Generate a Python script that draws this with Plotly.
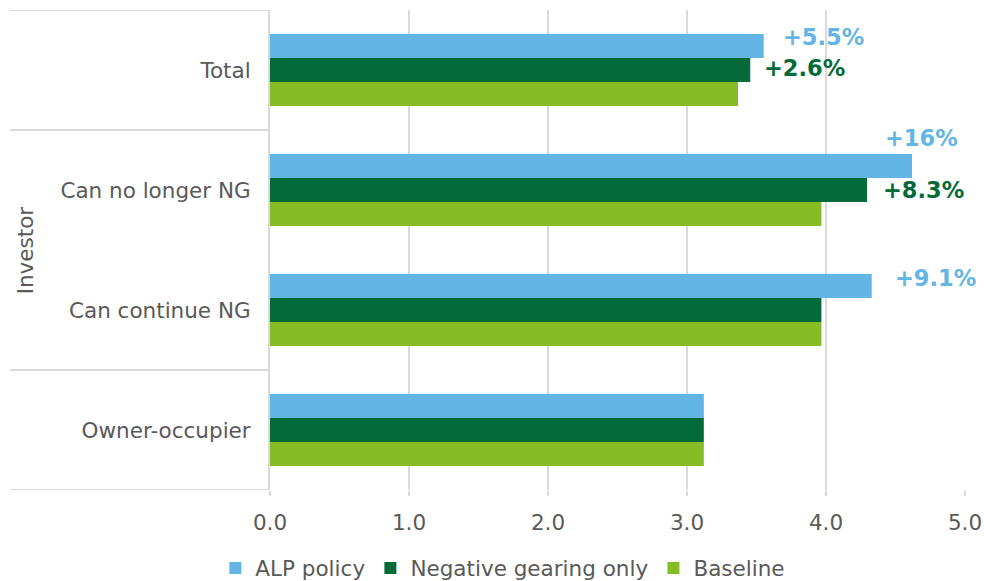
import plotly.graph_objects as go

# Categories, bottom to top
categories = ["Owner-occupier", "Can continue NG", "Can no longer NG", "Total"]

# Series values
alp_policy = [3.121, 4.329, 4.619, 3.552]
negative_gearing_only = [3.121, 3.967, 4.295, 3.455]
baseline = [3.121, 3.967, 3.967, 3.367]

series_names = ["ALP policy", "Negative gearing only", "Baseline"]
series_values = [alp_policy, negative_gearing_only, baseline]
series_colors = ["#62B5E5", "#046A38", "#86BC25"]

# Percentage-change labels: (category, series, text)
change_labels = [
    ("Total", "ALP policy", "+5.5%"),
    ("Total", "Negative gearing only", "+2.6%"),
    ("Can no longer NG", "ALP policy", "+16%"),
    ("Can no longer NG", "Negative gearing only", "+8.3%"),
    ("Can continue NG", "ALP policy", "+9.1%"),
]

x_ticks = [0, 1, 2, 3, 4, 5]
x_tick_text = ["0.0", "1.0", "2.0", "3.0", "4.0", "5.0"]

FONT = "Verdana, DejaVu Sans, sans-serif"
GRID = "#D9D9D9"
TEXT = "#595959"
FS = 21.5

fig = go.Figure()

# Add bottom-most bar first so ALP policy sits on top of each group
for name, vals, color in reversed(list(zip(series_names, series_values, series_colors))):
    fig.add_trace(go.Bar(
        name=name, y=categories, x=vals, orientation="h",
        marker=dict(color=color, line=dict(width=0)),
    ))

# label placement tweaks (pixels)
label_shift = {
    ("Total", "ALP policy"): (17, 9),
    ("Total", "Negative gearing only"): (12, 2),
    ("Can no longer NG", "ALP policy"): (-29, 28),
    ("Can no longer NG", "Negative gearing only"): (14, 0),
    ("Can continue NG", "ALP policy"): (21, 8),
}
bar_offset = {"ALP policy": 0.2, "Negative gearing only": 0.0, "Baseline": -0.2}

for cat, ser, text in change_labels:
    ci = categories.index(cat)
    si = series_names.index(ser)
    xs, ys = label_shift[(cat, ser)]
    fig.add_annotation(
        x=series_values[si][ci], y=ci + bar_offset[ser],
        text=f"<b>{text}</b>", showarrow=False,
        xanchor="left", yanchor="middle", xshift=xs, yshift=ys,
        font=dict(family=FONT, size=22.5, color=series_colors[si]),
    )

# Group label for investor categories
fig.add_annotation(
    x=-0.352, y=1.5, xref="paper", yref="y", text="Investor", textangle=-90,
    showarrow=False, xanchor="center", yanchor="middle",
    font=dict(family=FONT, size=FS, color=TEXT),
)

# Dividers in the category label area
for yv in [-0.5, 0.5, 2.5, 3.5]:
    fig.add_shape(type="line", xref="paper", yref="y", x0=-0.374, x1=0,
                  y0=yv, y1=yv, line=dict(color=GRID, width=2), layer="below")

fig.update_layout(
    width=984, height=581,
    margin=dict(l=270, r=19, t=10, b=91, autoexpand=False),
    barmode="group", bargap=0.4, bargroupgap=0,
    plot_bgcolor="white", paper_bgcolor="white",
    font=dict(family=FONT, size=FS, color=TEXT),
    showlegend=True,
    legend=dict(orientation="h", traceorder="reversed",
                x=0.335, xanchor="center", y=-0.1625, yanchor="middle",
                font=dict(family=FONT, size=FS, color=TEXT),
                itemwidth=30, tracegroupgap=0),
    xaxis=dict(range=[0, 5], tickvals=x_ticks, ticktext=x_tick_text,
               showgrid=True, gridcolor=GRID, gridwidth=2,
               zeroline=False, showline=False, automargin=False,
               ticks="outside", ticklen=5, tickcolor=GRID, tickwidth=2,
               ticklabelstandoff=8,
               tickfont=dict(family=FONT, size=FS, color=TEXT), fixedrange=True),
    yaxis=dict(type="category", categoryorder="array", categoryarray=categories,
               range=[-0.5, 3.5], showgrid=False, zeroline=False, automargin=False,
               showline=True, linecolor=GRID, linewidth=2,
               ticks="", ticklabelstandoff=13,
               tickfont=dict(family=FONT, size=FS, color=TEXT), fixedrange=True),
)

fig.write_html("out.html")
